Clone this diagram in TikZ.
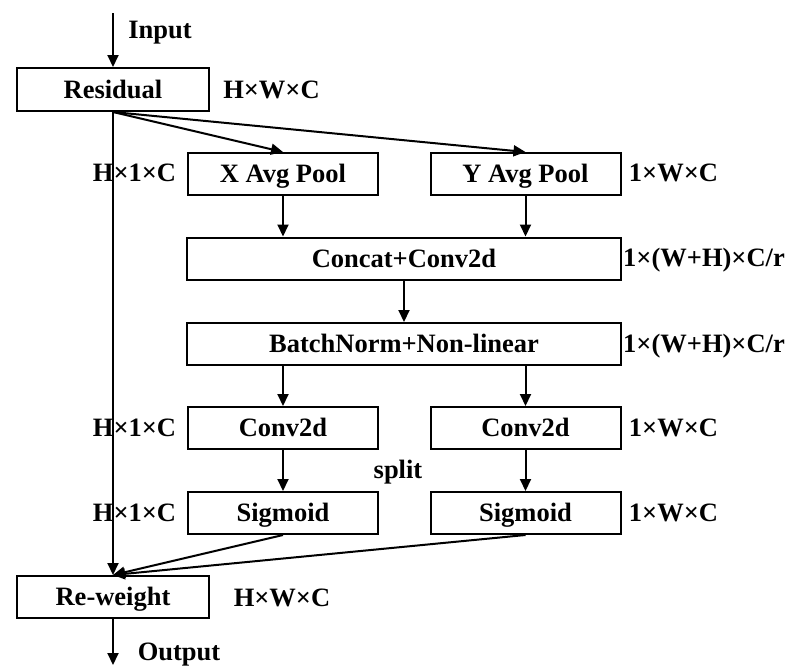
\documentclass[tikz,border=0pt]{standalone}
\usepackage{fontspec}
\setmainfont{Liberation Serif}
\usetikzlibrary{arrows.meta}
\begin{document}
\begin{tikzpicture}[x=1pt,y=-1pt,
  font=\fontsize{26.5}{30}\selectfont\bfseries,
  every node/.style={text height=17.5pt,text depth=0pt},
  box/.style={draw,line width=2pt,inner sep=0pt,anchor=center},
  smallbox/.style={box,minimum width=190pt,minimum height=42pt},
  widebox/.style={box,minimum width=434pt,minimum height=42pt},
  lab/.style={inner sep=0pt,anchor=center},
  arr/.style={line width=2pt,-{Triangle[length=12pt,width=11pt]}},
  ln/.style={line width=2pt}]
\useasboundingbox (0,0) rectangle (788,665);
% boxes
\node[box,minimum width=192pt,minimum height=43pt] (res) at (113,89.5) {Residual};
\node[smallbox] (xp) at (283,174) {X Avg Pool};
\node[smallbox] (yp) at (525.5,174) {Y Avg Pool};
\node[widebox] (cat) at (404,258.5) {Concat+Conv2d};
\node[widebox] (bn) at (404,344) {BatchNorm+Non-linear};
\node[smallbox] (c1) at (283,428) {Conv2d};
\node[smallbox] (c2) at (525.5,428) {Conv2d};
\node[smallbox] (s1) at (283,513) {Sigmoid};
\node[smallbox] (s2) at (525.5,513) {Sigmoid};
\node[box,minimum width=192pt,minimum height=42pt] (rw) at (113,597) {Re-weight};
% free ends
\coordinate (in) at (113,13);
\coordinate (out) at (113,665);
% labels
\node[lab] (lin) at (160,30) {Input};
\node[lab] (lout) at (179,652) {Output};
\node[lab] (l0) at (271.5,90) {H×W×C};
\node[lab] (l1) at (134.5,173) {H×1×C};
\node[lab] (l2) at (673.5,173) {1×W×C};
\node[lab] (l3) at (704,258) {1×(W+H)×C/r};
\node[lab] (l4) at (704,344) {1×(W+H)×C/r};
\node[lab] (l5) at (134.5,428) {H×1×C};
\node[lab] (l6) at (673.5,428) {1×W×C};
\node[lab] (l7) at (398,470) {split};
\node[lab] (l8) at (134.5,513) {H×1×C};
\node[lab] (l9) at (673.5,513) {1×W×C};
\node[lab] (l10) at (282,598) {H×W×C};
% connectors
\draw[arr] (in) -- (res.north);
\draw[arr] (res.south) -- (xp.north);
\draw[arr] (res.south) -- (yp.north);
\draw[arr] (res.south) -- (rw.north);
\draw[arr] (xp.south) -- (xp.south |- cat.north);
\draw[arr] (yp.south) -- (yp.south |- cat.north);
\draw[arr] (cat.south) -- (bn.north);
\draw[arr] (bn.south -| c1.north) -- (c1.north);
\draw[arr] (bn.south -| c2.north) -- (c2.north);
\draw[arr] (c1.south) -- (s1.north);
\draw[arr] (c2.south) -- (s2.north);
\draw[arr] (s1.south) -- (rw.north);
\draw[arr] (s2.south) -- (rw.north);
\draw[arr] (rw.south) -- (out);
\end{tikzpicture}
\end{document}
